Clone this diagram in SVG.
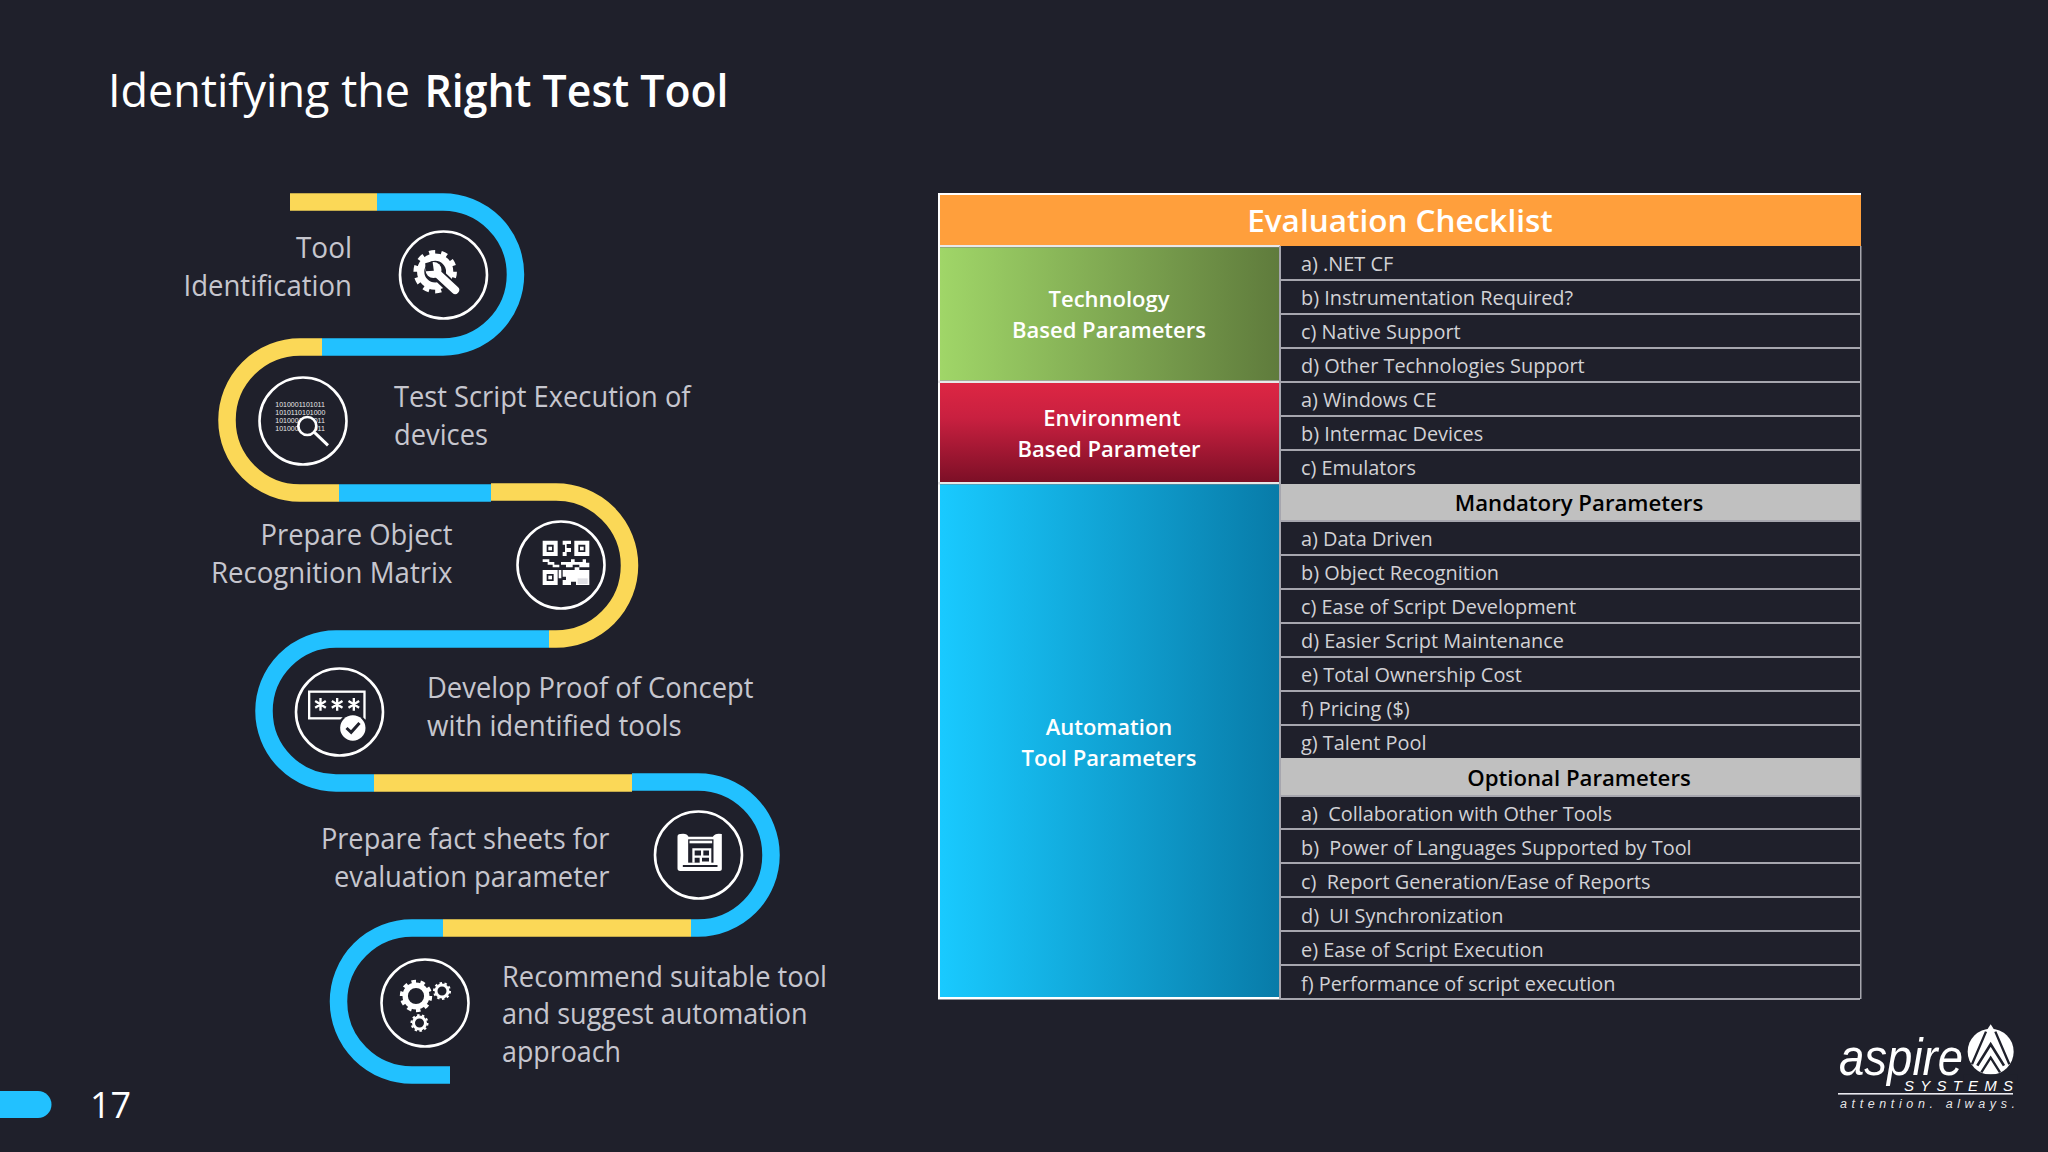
<svg xmlns="http://www.w3.org/2000/svg" width="2048" height="1152" viewBox="0 0 2048 1152">
<style>
text{font-family:"Open Sans","Noto Sans","Liberation Sans",sans-serif}
.b{fill:none;stroke:#22c1ff;stroke-width:17.5}
.y{fill:none;stroke:#fbd857;stroke-width:17.5}
.ring{fill:#1f202b;stroke:#fff;stroke-width:2.6}
.lab{fill:#c6c6ce;font-size:28.5px}
.e{text-anchor:end}
.cell{fill:#d2d2d6;font-size:19.9px}
.hd{font-weight:600;fill:#fff;font-size:22px;text-anchor:middle}
.sub{font-weight:600;fill:#000;font-size:22.2px;text-anchor:middle}
.rl{stroke:#a6a6ae;stroke-width:2}
.w{fill:#fff}
.d{fill:#1f202b}
.ws{fill:none;stroke:#fff}
.ds{fill:none;stroke:#1f202b}
.logo{font-family:"Liberation Sans",sans-serif;font-style:italic;fill:#fff}
.bin{font-family:"Liberation Sans",sans-serif;font-size:21px;fill:#e8e8e8}
</style>
<defs>
<linearGradient id="gG"><stop offset="0" stop-color="#a0d668"/><stop offset="1" stop-color="#5f7b3c"/></linearGradient>
<linearGradient id="gR" x2="0" y2="1"><stop offset="0" stop-color="#dd2643"/><stop offset=".35" stop-color="#c92040"/><stop offset="1" stop-color="#7c0f26"/></linearGradient>
<linearGradient id="gB"><stop offset="0" stop-color="#19caff"/><stop offset="1" stop-color="#087ba8"/></linearGradient>
<g id="gear"><circle r="15" fill="none" stroke="#fff" stroke-width="7.5"/><circle r="20" fill="none" stroke="#fff" stroke-width="5" pathLength="20" stroke-dasharray="1 1"/></g>
</defs>
<rect width="2048" height="1152" fill="#1f202b"/>
<g id="title"><text x="108" y="107" fill="#fff" font-size="45px">Identifying the</text><text x="424.500" y="107" fill="#fff" font-size="45px" font-weight="600" textLength="304" lengthAdjust="spacingAndGlyphs">Right Test Tool</text></g>

<g id="connectors">
<path class="y" d="M290 202H377"/>
<path class="b" d="M377 202H443A72.5 72.5 0 0 1 443 347H322"/>
<path class="y" d="M322 347H300A73 73 0 0 0 300 493H339"/>
<path class="b" d="M339 493H491"/>
<path class="y" d="M491 492H556A73.5 73.5 0 0 1 556 639H549"/>
<path class="b" d="M549 639H336A72 72 0 0 0 336 783H374"/>
<path class="y" d="M374 783H632"/>
<path class="b" d="M632 782H698A73 73 0 0 1 698 928H691"/>
<path class="y" d="M691 928H443"/>
<path class="b" d="M443 928H412A73.5 73.5 0 0 0 412 1075H450"/>
</g>

<g id="step1">
<text class="lab e" x="352" y="257.500" textLength="56" lengthAdjust="spacingAndGlyphs">Tool</text><text class="lab e" x="352" y="295.500" textLength="168.500" lengthAdjust="spacingAndGlyphs">Identification</text>
<circle class="ring" cx="443.500" cy="275" r="43.5"/>
<g transform="translate(443.500 275) scale(.3333) translate(-135 -135)">
<use href="#gear" transform="translate(110 125) scale(2.9)"/>
<path class="ds" stroke-width="38" d="M120 135L178 190"/>
<path class="ws" stroke-width="24" stroke-linecap="round" d="M118 132L170 180"/>
<circle class="w" cx="105" cy="120" r="24"/>
<path class="d" d="M106 122L82 124L80 100L102 94Z"/>
</g>
</g>

<g id="step2">
<text class="lab" x="394" y="407" textLength="296.500" lengthAdjust="spacingAndGlyphs">Test Script Execution of</text><text class="lab" x="394" y="445" textLength="94" lengthAdjust="spacingAndGlyphs">devices</text>
<circle class="ring" cx="303" cy="421" r="43.5"/>
<g transform="translate(258 376) scale(.3333)">
<text class="bin" x="52" y="92">1010001101011</text><text class="bin" x="52" y="116">1010110101000</text><text class="bin" x="52" y="141">1010001101011</text><text class="bin" x="52" y="165">1010001101011</text>
<circle cx="148" cy="150" r="27" fill="#1f202b" stroke="#fff" stroke-width="8"/>
<path class="ws" stroke-width="9" d="M170 170L210 208"/>
</g>
</g>

<g id="step3">
<text class="lab e" x="452.500" y="544.500" textLength="192" lengthAdjust="spacingAndGlyphs">Prepare Object</text><text class="lab e" x="452.500" y="582.500" textLength="241.600" lengthAdjust="spacingAndGlyphs">Recognition Matrix</text>
<circle class="ring" cx="561" cy="565" r="43.5"/>
<g transform="translate(516 520) scale(.3333)">
<path class="w" fill-rule="evenodd" d="M80 62H125V108H80ZM92 74V96H113V74ZM175 62H220V108H175ZM187 74V96H208V74ZM80 150H125V195H80ZM92 162V183H113V162Z"/>
<rect class="w" x="97" y="80" width="11" height="11"/><rect class="w" x="192" y="80" width="11" height="11"/><rect class="w" x="97" y="167" width="11" height="11"/>
<path class="w" d="M140 62H165V72H152V84H165V96H152V108H140V96H147V74H140ZM80 118H100V126H80ZM95 126H115V134H135V126H165V118H176V126H200V118H210V128H220V142H190V134H170V142H150V134H130V142H110V134H95ZM140 150H176V142H190V150H220V195H180V185H165V195H140V180H150V170H140ZM128 150H136V175H128Z"/>
<path fill="#c9c9d2" d="M185 175H215V192H185Z" opacity=".6"/>
</g>
</g>

<g id="step4">
<text class="lab" x="427" y="698" textLength="326.500" lengthAdjust="spacingAndGlyphs">Develop Proof of Concept</text><text class="lab" x="427" y="736" textLength="254.700" lengthAdjust="spacingAndGlyphs">with identified tools</text>
<circle class="ring" cx="339.500" cy="712" r="43.5"/>
<g transform="translate(294.500 667) scale(.3333)">
<rect x="44" y="74" width="166" height="80" fill="none" stroke="#fff" stroke-width="7"/>
<g class="ws" stroke-width="7"><path d="M78 93V131M62 102L94 122M62 122L94 102M128 93V131M112 102L144 122M112 122L144 102M178 93V131M162 102L194 122M162 122L194 102"/></g>
<circle cx="175" cy="183" r="45" fill="#1f202b"/><circle class="w" cx="175" cy="183" r="38"/>
<path class="ds" stroke-width="9" d="M156 183L170 196L195 168"/>
</g>
</g>

<g id="step5">
<text class="lab e" x="609.500" y="849" textLength="288.600" lengthAdjust="spacingAndGlyphs">Prepare fact sheets for</text><text class="lab e" x="609.500" y="887" textLength="275.600" lengthAdjust="spacingAndGlyphs">evaluation parameter</text>
<circle class="ring" cx="698.500" cy="855" r="43.5"/>
<g transform="translate(653.500 810) scale(.3333)">
<path class="w" d="M80 72Q100 68 105 80H178Q185 68 205 72V178Q205 183 198 183H80Q72 183 72 175V80Q72 72 80 72Z"/>
<rect class="d" x="104" y="88" width="76" height="70"/>
<path class="ds" stroke-width="6" d="M88 168H192"/>
<path class="w" d="M108 92H176V100H108Z"/>
<path class="ws" stroke-width="7" d="M120 158V118H170V158H142V140H122M146 120V140H168"/>
</g>
</g>

<g id="step6">
<text class="lab" x="502" y="987" textLength="325" lengthAdjust="spacingAndGlyphs">Recommend suitable tool</text><text class="lab" x="502" y="1024" textLength="305.600" lengthAdjust="spacingAndGlyphs">and suggest automation</text><text class="lab" x="502" y="1062" textLength="119" lengthAdjust="spacingAndGlyphs">approach</text>
<circle class="ring" cx="425" cy="1003" r="43.5"/>
<use href="#gear" transform="translate(416 996) scale(.72)"/>
<use href="#gear" transform="translate(442 991) scale(.4)"/>
<use href="#gear" transform="translate(419.500 1023) scale(.4)"/>
</g>

<g id="checklist">
<rect x="938" y="193" width="923" height="2.5" fill="#fff"/>
<rect x="938" y="195" width="923" height="51" fill="#ff9f3c"/>
<text x="1400" y="232" fill="#fff" font-weight="600" font-size="31.5px" text-anchor="middle">Evaluation Checklist</text>
<rect x="938" y="245" width="342" height="2.5" fill="#e8e8e8"/>
<rect x="938" y="193" width="2" height="806" fill="#fff"/>
<rect x="1860" y="246" width="1.5" height="753" fill="#a6a6ae"/>
<g id="tech"><rect x="940" y="247.500" width="340" height="133" fill="url(#gG)"/>
<text class="hd" x="1109" y="307">Technology</text><text class="hd" x="1109" y="338">Based Parameters</text></g>
<rect x="938" y="380.500" width="342" height="2.5" fill="#e8e8e8"/>
<g id="env"><rect x="940" y="383" width="340" height="99" fill="url(#gR)"/>
<text class="hd" x="1112" y="426">Environment</text><text class="hd" x="1109" y="457">Based Parameter</text></g>
<rect x="938" y="482" width="342" height="2.5" fill="#e8e8e8"/>
<g id="auto"><rect x="940" y="484.500" width="340" height="513" fill="url(#gB)"/>
<text class="hd" x="1109" y="735">Automation</text><text class="hd" x="1109" y="765.500">Tool Parameters</text></g>
<rect x="938" y="997" width="342" height="2.5" fill="#fff"/>
<g id="rows">
<rect x="1280" y="484" width="580" height="37" fill="#c0c0c0"/>
<rect x="1280" y="758" width="580" height="37" fill="#c0c0c0"/>
<path class="rl" d="M1280 280H1860M1280 314H1860M1280 348H1860M1280 382H1860M1280 416H1860M1280 450H1860M1280 555H1860M1280 589H1860M1280 623H1860M1280 657H1860M1280 691H1860M1280 725H1860M1280 521H1860M1280 796H1860M1280 829H1860M1280 863H1860M1280 897H1860M1280 931H1860M1280 965H1860M1280 999H1860M1280 246V999"/>
<text class="cell" x="1301" y="271">a) .NET CF</text>
<text class="cell" x="1301" y="305">b) Instrumentation Required?</text>
<text class="cell" x="1301" y="339">c) Native Support</text>
<text class="cell" x="1301" y="373">d) Other Technologies Support</text>
<text class="cell" x="1301" y="407">a) Windows CE</text>
<text class="cell" x="1301" y="441">b) Intermac Devices</text>
<text class="cell" x="1301" y="475">c) Emulators</text>
<text class="sub" x="1579" y="510.500">Mandatory Parameters</text>
<text class="cell" x="1301" y="546">a) Data Driven</text>
<text class="cell" x="1301" y="580">b) Object Recognition</text>
<text class="cell" x="1301" y="614">c) Ease of Script Development</text>
<text class="cell" x="1301" y="648">d) Easier Script Maintenance</text>
<text class="cell" x="1301" y="682">e) Total Ownership Cost</text>
<text class="cell" x="1301" y="716">f) Pricing ($)</text>
<text class="cell" x="1301" y="750">g) Talent Pool</text>
<text class="sub" x="1579" y="785.500">Optional Parameters</text>
<text class="cell" x="1301" y="820.500" xml:space="preserve">a)  Collaboration with Other Tools</text>
<text class="cell" x="1301" y="854.500" xml:space="preserve">b)  Power of Languages Supported by Tool</text>
<text class="cell" x="1301" y="888.500" xml:space="preserve">c)  Report Generation/Ease of Reports</text>
<text class="cell" x="1301" y="922.500" xml:space="preserve">d)  UI Synchronization</text>
<text class="cell" x="1301" y="956.500">e) Ease of Script Execution</text>
<text class="cell" x="1301" y="990.500">f) Performance of script execution</text>
</g>
</g>

<g id="footer">
<path d="M0 1091H38A13.500 13.500 0 0 1 38 1118H0Z" fill="#22c1ff"/>
<text x="90" y="1118" fill="#fff" font-size="36px">17</text>
</g>

<g id="logo">
<g transform="translate(1950 1015) scale(.3333)">
<circle class="w" cx="122" cy="110" r="69"/>
<path class="w" d="M122 28L95 70H149Z"/>
<path class="d" d="M40 178H204V200H40Z"/>
<path class="ds" stroke-width="7" d="M108 50L66 148M136 50L178 148"/>
<path class="ds" stroke-width="8" d="M82 152L122 88L162 152"/>
<path class="ds" stroke-width="7" d="M94 172L122 128L150 172"/>
</g>
<text class="logo" x="1839" y="1075" font-size="52px" textLength="124" lengthAdjust="spacingAndGlyphs">aspire</text>
<text class="logo" x="1904" y="1091" font-size="15px" textLength="109">SYSTEMS</text>
<rect x="1838" y="1093" width="175" height="1.6" fill="#e8e8ee"/>
<text class="logo" x="1840" y="1108" font-size="12.5px" textLength="175" fill-opacity=".9">attention. always.</text>
</g>
</svg>
